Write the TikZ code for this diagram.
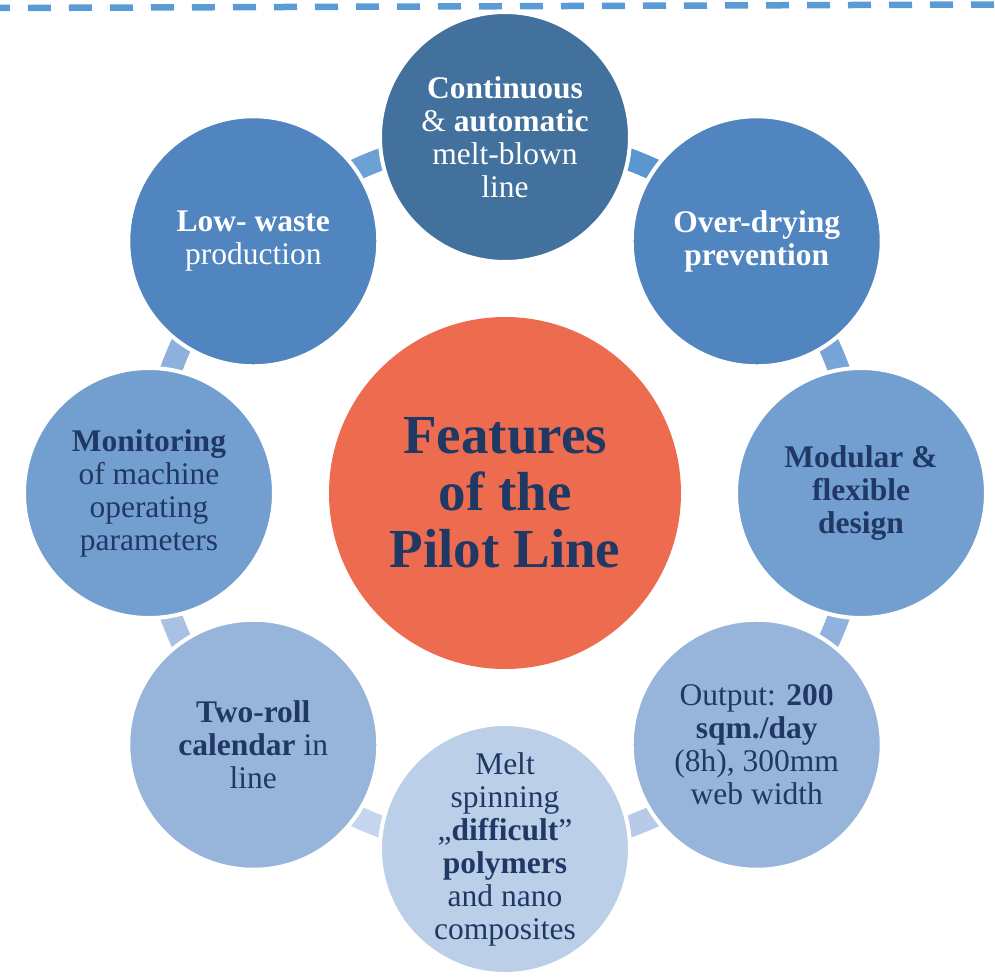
\documentclass[tikz,border=0pt]{standalone}
\usepackage{fontspec}
\setmainfont{Liberation Serif}
\definecolor{navytext}{HTML}{203864}
\definecolor{dashblue}{HTML}{5B9BD5}
\definecolor{pilotred}{HTML}{ED6B4F}
\definecolor{shadeA}{HTML}{41719C}
\definecolor{shadeB}{HTML}{5085BF}
\definecolor{shadeC}{HTML}{729FCF}
\definecolor{shadeD}{HTML}{97B5DA}
\definecolor{shadeE}{HTML}{BBCFE8}
\tikzset{
    feature/.style={circle, minimum size=250pt, inner sep=0pt, draw=white, line width=4pt, align=center, text=navytext, font=\fontsize{31.5}{33}\selectfont},
    lighttext/.style={text=white},
}
\begin{document}
\begin{tikzpicture}[x=1pt, y=1pt]
    \useasboundingbox (-505, -485) rectangle (490, 493);
    \draw[dashblue, line width=6.5pt, dash pattern=on 23pt off 18pt, dash phase=13pt] (-505, 485) -- (490, 488.5);
    \coordinate (hub) at (0, 0);
    \foreach \a/\c in {67.5/5A97D0, 112.5/6DA0D5, 22.5/78A5D7, 157.5/8EB1DC, -22.5/91B2DE, -157.5/A9C2E4, -67.5/B7CBE8, -112.5/C5D5EE} {
        \definecolor{linkfill}{HTML}{\c}
        \draw[linkfill, line width=22pt] ([shift={(\a-5:356)}]hub) arc[start angle=\a-5, end angle=\a+5, radius=356];
    }
    \node[feature, lighttext, fill=shadeA] (cont) at (90:356) {\textbf{Continuous}\\\& \textbf{automatic}\\melt-blown\\line};
    \node[feature, lighttext, fill=shadeB] (overdry) at (45:356) {\textbf{Over-drying}\\\textbf{prevention}};
    \node[feature, fill=shadeC] (modular) at (0:356) {\textbf{Modular \&}\\\textbf{flexible}\\\textbf{design}};
    \node[feature, fill=shadeD] (output) at (-45:356) {Output: \textbf{200}\\\textbf{sqm./day}\\(8h), 300mm\\web width};
    \node[feature, fill=shadeE] (meltspin) at (-90:356) {Melt\\spinning\\„\textbf{difficult}”\\\textbf{polymers}\\and nano\\composites};
    \node[feature, fill=shadeD] (tworoll) at (-135:356) {\textbf{Two-roll}\\\textbf{calendar} in\\line};
    \node[feature, fill=shadeC] (monitor) at (180:356) {\textbf{Monitoring}\\of machine\\operating\\parameters};
    \node[feature, lighttext, fill=shadeB] (lowwaste) at (135:356) {\textbf{Low- waste}\\production};
    \node[circle, minimum size=352pt, inner sep=0pt, fill=pilotred, align=center, text=navytext, font=\bfseries\fontsize{55}{57}\selectfont] (pilot) at (hub) {Features\\of the\\Pilot Line};
\end{tikzpicture}
\end{document}
